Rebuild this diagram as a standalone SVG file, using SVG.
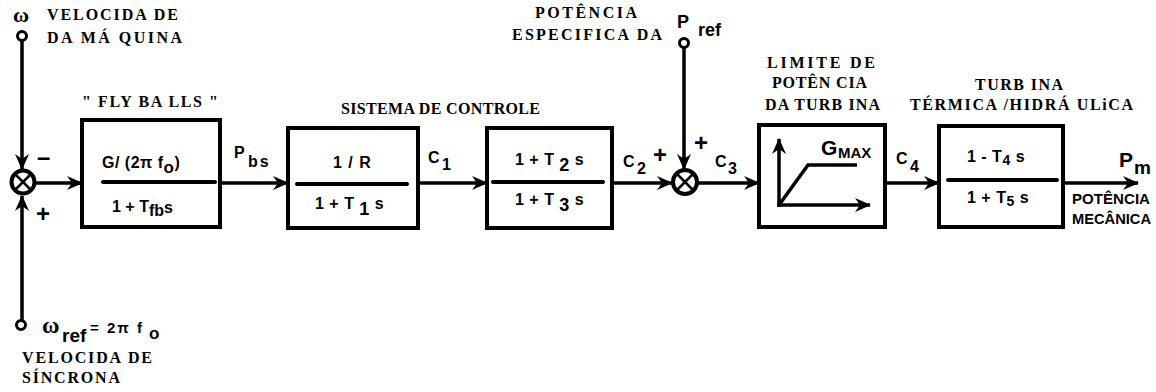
<svg xmlns="http://www.w3.org/2000/svg" width="1156" height="392" viewBox="0 0 1156 392">
<style>
.bg{fill:#fff}
.box{fill:none;stroke:#000;stroke-width:4}
.frac{stroke:#000;stroke-width:4;stroke-linecap:round}
.wire{fill:none;stroke:#000;stroke-width:3.5}
.term{fill:#fff;stroke:#000;stroke-width:3}
.sum{fill:#fff;stroke:#000;stroke-width:4}
.sx{stroke:#000;stroke-width:2.5}
.sr{font-family:"Liberation Serif","Times New Roman",serif;font-weight:bold;font-size:16px;fill:#000}
.ss{font-family:"Liberation Sans",Arial,sans-serif;font-weight:bold;font-size:16px;fill:#000}
.sign{font-family:"Liberation Sans",Arial,sans-serif;font-weight:bold;font-size:24px;fill:#000}
</style>
<defs>
<marker id="arr" markerWidth="16" markerHeight="14" refX="15" refY="7" orient="auto" markerUnits="userSpaceOnUse">
<path d="M0,0 L16,7 L0,14 L5,7 z" fill="#000"/>
</marker>
</defs>
<rect class="bg" x="0" y="0" width="1156" height="392"/>

<g id="connectors">
<line class="wire" x1="22" y1="41" x2="22" y2="169" marker-end="url(#arr)"/>
<line class="wire" x1="22" y1="320" x2="22" y2="196" marker-end="url(#arr)"/>
<line class="wire" x1="35" y1="183" x2="82" y2="183" marker-end="url(#arr)"/>
<line class="wire" x1="220" y1="183" x2="288" y2="183" marker-end="url(#arr)"/>
<line class="wire" x1="418" y1="183" x2="487" y2="183" marker-end="url(#arr)"/>
<line class="wire" x1="612" y1="183" x2="672" y2="183" marker-end="url(#arr)"/>
<line class="wire" x1="684" y1="48" x2="684" y2="169" marker-end="url(#arr)"/>
<line class="wire" x1="698" y1="183" x2="759" y2="183" marker-end="url(#arr)"/>
<line class="wire" x1="885" y1="183" x2="939" y2="183" marker-end="url(#arr)"/>
<line class="wire" x1="1063" y1="183" x2="1138" y2="183" marker-end="url(#arr)"/>
</g>

<g id="omega-in">
<circle class="term" cx="22" cy="36" r="4.5"/>
<text class="sr" x="13" y="22" style="font-size:22px">ω</text>
<text class="sr" x="47" y="20" textLength="131" lengthAdjust="spacing">VELOCIDA DE</text>
<text class="sr" x="47" y="43" textLength="135" lengthAdjust="spacing">DA MÁ QUINA</text>
</g>

<g id="sum1">
<circle class="sum" cx="23" cy="182" r="11.5"/>
<line class="sx" x1="16" y1="175" x2="30" y2="189"/>
<line class="sx" x1="30" y1="175" x2="16" y2="189"/>
<text class="sign" x="37" y="165">–</text>
<text class="sign" x="36" y="222">+</text>
</g>

<g id="omega-ref">
<circle class="term" cx="21" cy="325" r="4.5"/>
<text class="sr" x="42" y="333" style="font-size:24px">ω</text>
<text class="ss" x="62" y="342" style="font-size:19px">ref</text>
<text class="ss" x="90" y="333" style="font-size:15px" textLength="52" lengthAdjust="spacing">= 2π f</text>
<text class="ss" x="149" y="339" style="font-size:17px">o</text>
<text class="sr" x="22" y="363" textLength="130" lengthAdjust="spacing">VELOCIDA DE</text>
<text class="sr" x="22" y="383" textLength="98" lengthAdjust="spacing">SÍNCRONA</text>
</g>

<g id="flyballs">
<text class="sr" x="82" y="107" textLength="136" lengthAdjust="spacing">" FLY BA LLS "</text>
<rect class="box" x="82" y="120" width="138" height="107"/>
<line class="frac" x1="103" y1="182" x2="215" y2="182"/>
<text class="ss" x="102" y="168" letter-spacing="0.5">G/ (2π f<tspan dy="5" font-size="17">o</tspan><tspan dy="-5">)</tspan></text>
<text class="ss" x="112" y="212">1 + T<tspan dy="4" font-size="16">fb</tspan><tspan dy="-3">s</tspan></text>
<text class="ss" x="234" y="158">P<tspan x="248" y="167" letter-spacing="2">bs</tspan></text>
</g>

<g id="controle1">
<text class="sr" x="341" y="114" textLength="199" lengthAdjust="spacing">SISTEMA DE CONTROLE</text>
<rect class="box" x="288" y="128" width="130" height="100"/>
<line class="frac" x1="297" y1="184" x2="407" y2="184"/>
<text class="ss" x="333" y="168" letter-spacing="1">1 / R</text>
<text class="ss" x="315" y="209" letter-spacing="0.5">1 + T <tspan dy="6" font-size="18">1</tspan><tspan dy="-6"> s</tspan></text>
<text class="ss" x="428" y="163">C<tspan x="442" y="170">1</tspan></text>
</g>

<g id="controle2">
<rect class="box" x="487" y="128" width="125" height="100"/>
<line class="frac" x1="493" y1="182" x2="603" y2="182"/>
<text class="ss" x="515" y="165" letter-spacing="0.5">1 + T <tspan dy="6" font-size="18">2</tspan><tspan dy="-6"> s</tspan></text>
<text class="ss" x="515" y="205" letter-spacing="0.5">1 + T <tspan dy="6" font-size="18">3</tspan><tspan dy="-6"> s</tspan></text>
<text class="ss" x="623" y="167">C<tspan x="637" y="174">2</tspan></text>
</g>

<g id="sum2">
<circle class="sum" cx="685" cy="182" r="12"/>
<line class="sx" x1="677.5" y1="174.5" x2="692.5" y2="189.5"/>
<line class="sx" x1="692.5" y1="174.5" x2="677.5" y2="189.5"/>
<text class="sign" x="653" y="163">+</text>
<text class="sign" x="694" y="151">+</text>
<text class="ss" x="715" y="167">C<tspan x="728" y="174">3</tspan></text>
</g>

<g id="pref">
<circle class="term" cx="684" cy="43" r="4.5"/>
<text class="ss" x="677" y="28" style="font-size:18px">P</text>
<text class="ss" x="698" y="36" style="font-size:18px">ref</text>
<text class="sr" x="535" y="18" textLength="102" lengthAdjust="spacing">POTÊNCIA</text>
<text class="sr" x="512" y="40" textLength="150" lengthAdjust="spacing">ESPECIFICA DA</text>
</g>

<g id="limite">
<text class="sr" x="767" y="68" textLength="108" lengthAdjust="spacing">LIMITE DE</text>
<text class="sr" x="772" y="88" textLength="95" lengthAdjust="spacing">POTÊN CIA</text>
<text class="sr" x="765" y="110" textLength="115" lengthAdjust="spacing">DA TURB INA</text>
<rect class="box" x="759" y="125" width="126" height="102"/>
<line class="wire" x1="779" y1="207" x2="779" y2="139" marker-end="url(#arr)"/>
<line class="wire" x1="777" y1="205" x2="870" y2="205" marker-end="url(#arr)"/>
<polyline class="wire" points="779,205 808,165 857,165"/>
<text class="ss" x="821" y="155" style="font-size:21px">G<tspan x="838" y="158" font-size="15">MAX</tspan></text>
<text class="ss" x="896" y="164">C</text>
<text class="ss" x="910" y="172">4</text>
</g>

<g id="turbina">
<text class="sr" x="975" y="90" textLength="88" lengthAdjust="spacing">TURB INA</text>
<text class="sr" x="910" y="110" textLength="223" lengthAdjust="spacing">TÉRMICA /HIDRÁ ULiCA</text>
<rect class="box" x="939" y="126" width="124" height="101"/>
<line class="frac" x1="948" y1="180" x2="1057" y2="180"/>
<text class="ss" x="967" y="162" letter-spacing="0.5">1 - T<tspan dy="3" font-size="14">4</tspan><tspan dy="-3"> s</tspan></text>
<text class="ss" x="967" y="203" letter-spacing="0.5">1  + T<tspan dy="3" font-size="14">5</tspan><tspan dy="-3"> s</tspan></text>
</g>

<g id="pm">
<text class="ss" x="1119" y="167" style="font-size:21px">P</text>
<text class="ss" x="1134" y="174" style="font-size:19px">m</text>
<text class="ss" x="1072" y="204" textLength="78" lengthAdjust="spacingAndGlyphs" style="font-size:15px">POTÊNCIA</text>
<text class="ss" x="1072" y="224" textLength="79" lengthAdjust="spacingAndGlyphs" style="font-size:15px">MECÂNICA</text>
</g>
</svg>
